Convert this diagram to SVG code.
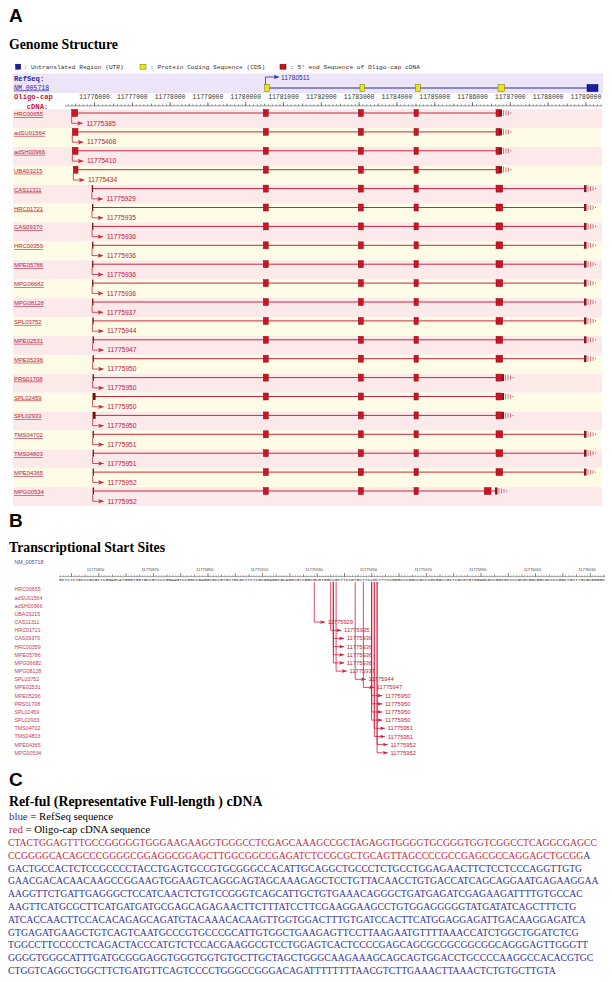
<svg xmlns="http://www.w3.org/2000/svg" xmlns:xlink="http://www.w3.org/1999/xlink" width="612" height="982" viewBox="0 0 612 982">
<style>
.h{font-family:"Liberation Sans",Arial,sans-serif;font-weight:bold;font-size:19px;fill:#000}
.t{font-family:"Liberation Serif","Times New Roman",serif;font-weight:bold;font-size:13.8px;fill:#000}
.lg{font-family:"Liberation Mono","Courier New",monospace;font-size:6.2px;fill:#333}
.rl{font-family:"Liberation Mono","Courier New",monospace;font-size:6.4px;fill:#333;text-anchor:middle}
.lab{font-family:"Liberation Sans",Arial,sans-serif;font-size:5.9px;fill:#c0203a;text-decoration:underline}
.tssl{font-family:"Liberation Sans",Arial,sans-serif;font-size:6.7px;fill:#c0203a}
.bl{font-family:"Liberation Sans",Arial,sans-serif;font-size:5.3px;fill:#c83a5a}
.btl{font-family:"Liberation Sans",Arial,sans-serif;font-size:5.8px;fill:#c8203a}
.brl{font-family:"Liberation Sans",Arial,sans-serif;font-size:4px;fill:#444;text-anchor:middle}
.seqB{font-family:"Liberation Mono","Courier New",monospace;font-size:4.3px;fill:#333}
.seq{font-family:"Liberation Serif","Times New Roman",serif;font-size:9.7px}
.cap{font-family:"Liberation Serif","Times New Roman",serif;font-size:10.8px;fill:#000}
.r{fill:#cc2a40}
.b{fill:#33339a}
.bp{fill:#fce9ea}
.by{fill:#fefbe6}
.intr{stroke:#c8283c;stroke-width:1;fill:none}
.ex{fill:#cc1424;stroke:#8a0f18;stroke-width:0.5}
.mk{fill:#7a1010}
.tss{stroke:#c8283c;stroke-width:0.8;fill:none;marker-end:url(#arrA)}
.tsb{stroke:#d02040;stroke-width:0.8;fill:none;marker-end:url(#arrB)}
</style>
<defs>
<marker id="arrA" markerUnits="userSpaceOnUse" viewBox="0 0 5.5 4.6" markerWidth="5.5" markerHeight="4.6" refX="5.5" refY="2.3" orient="auto"><path d="M0,0L5.5,2.3L0,4.6L1.4,2.3Z" fill="#c8283c"/></marker>
<marker id="arrB" markerUnits="userSpaceOnUse" viewBox="0 0 5 3.8" markerWidth="5" markerHeight="3.8" refX="5" refY="1.9" orient="auto"><path d="M0,0L5,1.9L0,3.8L1.2,1.9Z" fill="#d02040"/></marker>
<marker id="arrR" markerUnits="userSpaceOnUse" viewBox="0 0 5.5 4.6" markerWidth="5.5" markerHeight="4.6" refX="5.5" refY="2.3" orient="auto"><path d="M0,0L5.5,2.3L0,4.6L1.4,2.3Z" fill="#3030a0"/></marker>
<g id="ex234">
<rect class="ex" x="263.3" y="-3.5" width="5" height="7"/>
<rect class="ex" x="358.3" y="-3.5" width="5" height="7"/>
<rect class="ex" x="414" y="-3.5" width="4.3" height="7"/>
</g>
<g id="tail">
<rect x="0" y="-3.5" width="2.5" height="7" fill="#8a1420"/>
<path d="M4,-3V3M6.5,-2.5V2.5M9,-2V2" stroke="#d04050" stroke-width="0.7"/>
<rect x="11" y="-0.5" width="1" height="1" fill="#d04050"/>
</g>
<pattern id="tA1" patternUnits="userSpaceOnUse" x="94.2" y="0" width="3.78" height="1000"><rect x="0" y="0" width="0.6" height="1000" fill="#555"/></pattern>
<pattern id="tA5" patternUnits="userSpaceOnUse" x="113.1" y="0" width="37.8" height="1000"><rect x="0" y="0" width="0.6" height="1000" fill="#555"/></pattern>
<pattern id="tB1" patternUnits="userSpaceOnUse" x="98.3" y="0" width="2.73" height="1000"><rect x="0" y="0" width="0.5" height="1000" fill="#555"/></pattern>
<pattern id="tB10" patternUnits="userSpaceOnUse" x="98.3" y="0" width="27.3" height="1000"><rect x="0" y="0" width="0.6" height="1000" fill="#444"/></pattern>
<pattern id="tB5" patternUnits="userSpaceOnUse" x="111.95" y="0" width="27.3" height="1000"><rect x="0" y="0" width="0.5" height="1000" fill="#555"/></pattern>
</defs>
<rect width="612" height="982" fill="#fff"/>

<!-- Panel A -->
<text class="h" x="9" y="22">A</text>
<text class="t" x="9" y="48.5">Genome Structure</text>
<g id="legend">
<rect x="15.7" y="64.2" width="5" height="5" fill="#1c1ca8" stroke="#000044" stroke-width="0.5"/>
<text class="lg" x="23.5" y="68.8">: Untranslated Region (UTR)</text>
<rect x="140" y="64.2" width="6" height="5" fill="#e6e619" stroke="#777700" stroke-width="0.5"/>
<text class="lg" x="150" y="68.8">: Protein Coding Sequence (CDS)</text>
<rect x="280" y="64.2" width="6" height="5" fill="#cc1122" stroke="#660000" stroke-width="0.5"/>
<text class="lg" x="290" y="68.8">: 5' end Sequence of Oligo-cap cDNA</text>
</g>
<g id="refseq">
<rect x="13" y="73.5" width="590" height="19.5" fill="#ebe5f7"/>
<text x="14" y="80.5" style="font-family:'Liberation Mono',monospace;font-weight:bold;font-size:7.2px;fill:#2a2a9a">RefSeq:</text>
<text x="14" y="89.5" style="font-family:'Liberation Mono',monospace;font-size:6.5px;fill:#2a2a9a;text-decoration:underline">NM_005718</text>
<path d="M265,88H598" stroke="#6a6ac0" stroke-width="1.4"/>
<path d="M265.5,85V77H279" stroke="#3030a0" stroke-width="0.8" fill="none" marker-end="url(#arrR)"/>
<text x="281" y="79.8" style="font-family:'Liberation Sans',Arial,sans-serif;font-size:6.7px;fill:#3030a0">11780511</text>
<g fill="#e6e619" stroke="#777700" stroke-width="0.5">
<rect x="264.7" y="84.5" width="5" height="7"/>
<rect x="360" y="84.5" width="4.7" height="7"/>
<rect x="415.7" y="84.5" width="4.7" height="7"/>
<rect x="498" y="84.5" width="6.7" height="7"/>
</g>
<rect x="587" y="84.5" width="11" height="7" fill="#1c1ca8" stroke="#000044" stroke-width="0.5"/>
</g>
<g id="rulerA">
<text x="14" y="99" style="font-family:'Liberation Mono',monospace;font-weight:bold;font-size:7.2px;fill:#c0203a">Oligo-cap</text>
<text x="26.7" y="109" style="font-family:'Liberation Mono',monospace;font-weight:bold;font-size:7.2px;fill:#c0203a">cDNA:</text>
<path d="M65,105.9H602" stroke="#555" stroke-width="0.6"/>
<rect x="65" y="104.3" width="537" height="1.5" fill="url(#tA1)"/>
<rect x="65" y="103.5" width="537" height="2.3" fill="url(#tA5)"/>
<path d="M94.5,102.2v3.6M132.3,102.2v3.6M170.1,102.2v3.6M207.9,102.2v3.6M245.7,102.2v3.6M283.5,102.2v3.6M321.3,102.2v3.6M359.1,102.2v3.6M396.9,102.2v3.6M434.7,102.2v3.6M472.5,102.2v3.6M510.3,102.2v3.6M548.1,102.2v3.6M585.9,102.2v3.6" stroke="#444" stroke-width="0.7"/>
<text class="rl" x="94.5" y="99.3">11776000</text>
<text class="rl" x="132.3" y="99.3">11777000</text>
<text class="rl" x="170.1" y="99.3">11778000</text>
<text class="rl" x="207.9" y="99.3">11779000</text>
<text class="rl" x="245.7" y="99.3">11780000</text>
<text class="rl" x="283.5" y="99.3">11781000</text>
<text class="rl" x="321.3" y="99.3">11782000</text>
<text class="rl" x="359.1" y="99.3">11783000</text>
<text class="rl" x="396.9" y="99.3">11784000</text>
<text class="rl" x="434.7" y="99.3">11785000</text>
<text class="rl" x="472.5" y="99.3">11786000</text>
<text class="rl" x="510.3" y="99.3">11787000</text>
<text class="rl" x="548.1" y="99.3">11788000</text>
<text class="rl" x="585.9" y="99.3">11789000</text>
</g>

<g id="row-HRC00655" transform="translate(0,113)">
<rect class="bp" x="13" y="-3.8" width="589" height="18.9"/>
<text class="lab" x="14" y="3">HRC00655</text>
<path class="intr" d="M71.7,0H499.5"/>
<rect class="ex" x="71.7" y="-3.5" width="6" height="7"/>
<use href="#ex234"/>
<rect class="ex" x="496" y="-3.5" width="4" height="7"/>
<use href="#tail" x="499.5"/>
<path class="tss" d="M71.7,3.5V10.3H82.7"/>
<text class="tssl" x="86.4" y="12.6">11775385</text>
</g>
<g id="row-adSU01564" transform="translate(0,131.9)">
<rect class="by" x="13" y="-3.8" width="589" height="18.9"/>
<text class="lab" x="14" y="3">adSU01564</text>
<path class="intr" d="M72.3,0H499.5"/>
<rect class="ex" x="72.3" y="-3.5" width="5.7" height="7"/>
<use href="#ex234"/>
<rect class="ex" x="496" y="-3.5" width="4" height="7"/>
<use href="#tail" x="499.5"/>
<path class="tss" d="M72.3,3.5V10.3H83.3"/>
<text class="tssl" x="87" y="12.6">11775408</text>
</g>
<g id="row-adSH00966" transform="translate(0,150.8)">
<rect class="bp" x="13" y="-3.8" width="589" height="18.9"/>
<text class="lab" x="14" y="3">adSH00966</text>
<path class="intr" d="M72.3,0H499.5"/>
<rect class="ex" x="72.3" y="-3.5" width="5.7" height="7"/>
<use href="#ex234"/>
<rect class="ex" x="496" y="-3.5" width="4" height="7"/>
<use href="#tail" x="499.5"/>
<path class="tss" d="M72.3,3.5V10.3H83.3"/>
<text class="tssl" x="87" y="12.6">11775410</text>
</g>
<g id="row-UBA03215" transform="translate(0,169.7)">
<rect class="by" x="13" y="-3.8" width="589" height="18.9"/>
<text class="lab" x="14" y="3">UBA03215</text>
<path class="intr" d="M73.3,0H499.5"/>
<rect class="ex" x="73.3" y="-3.5" width="4.7" height="7"/>
<use href="#ex234"/>
<rect class="ex" x="496" y="-3.5" width="4" height="7"/>
<use href="#tail" x="499.5"/>
<path class="tss" d="M73.3,3.5V10.3H84.3"/>
<text class="tssl" x="88" y="12.6">11775434</text>
</g>
<g id="row-CAS11311" transform="translate(0,188.6)">
<rect class="bp" x="13" y="-3.8" width="589" height="18.9"/>
<text class="lab" x="14" y="3">CAS11311</text>
<path class="intr" d="M91.8,0H584"/>
<rect class="mk" x="91.8" y="-3.5" width="1.3" height="7"/>
<use href="#ex234"/>
<rect class="ex" x="496" y="-3.5" width="6.7" height="7"/>
<use href="#tail" x="584"/>
<path class="tss" d="M91.8,3.5V10.3H102.8"/>
<text class="tssl" x="106.5" y="12.6">11775929</text>
</g>
<g id="row-HRC01721" transform="translate(0,207.5)">
<rect class="by" x="13" y="-3.8" width="589" height="18.9"/>
<text class="lab" x="14" y="3">HRC01721</text>
<path class="intr" d="M92,0H584"/>
<rect class="mk" x="92" y="-3.5" width="1.3" height="7"/>
<use href="#ex234"/>
<rect class="ex" x="496" y="-3.5" width="6.7" height="7"/>
<use href="#tail" x="584"/>
<path class="tss" d="M92,3.5V10.3H103"/>
<text class="tssl" x="106.7" y="12.6">11775935</text>
</g>
<g id="row-CAS09370" transform="translate(0,226.4)">
<rect class="bp" x="13" y="-3.8" width="589" height="18.9"/>
<text class="lab" x="14" y="3">CAS09370</text>
<path class="intr" d="M92.1,0H584"/>
<rect class="mk" x="92.1" y="-3.5" width="1.3" height="7"/>
<use href="#ex234"/>
<rect class="ex" x="496" y="-3.5" width="6.7" height="7"/>
<use href="#tail" x="584"/>
<path class="tss" d="M92.1,3.5V10.3H103.1"/>
<text class="tssl" x="106.8" y="12.6">11775936</text>
</g>
<g id="row-HRC00359" transform="translate(0,245.3)">
<rect class="by" x="13" y="-3.8" width="589" height="18.9"/>
<text class="lab" x="14" y="3">HRC00359</text>
<path class="intr" d="M92.1,0H584"/>
<rect class="mk" x="92.1" y="-3.5" width="1.3" height="7"/>
<use href="#ex234"/>
<rect class="ex" x="496" y="-3.5" width="6.7" height="7"/>
<use href="#tail" x="584"/>
<path class="tss" d="M92.1,3.5V10.3H103.1"/>
<text class="tssl" x="106.8" y="12.6">11775936</text>
</g>
<g id="row-MPE05786" transform="translate(0,264.2)">
<rect class="bp" x="13" y="-3.8" width="589" height="18.9"/>
<text class="lab" x="14" y="3">MPE05786</text>
<path class="intr" d="M92.1,0H584"/>
<rect class="mk" x="92.1" y="-3.5" width="1.3" height="7"/>
<use href="#ex234"/>
<rect class="ex" x="496" y="-3.5" width="6.7" height="7"/>
<use href="#tail" x="584"/>
<path class="tss" d="M92.1,3.5V10.3H103.1"/>
<text class="tssl" x="106.8" y="12.6">11775936</text>
</g>
<g id="row-MPG06682" transform="translate(0,283.1)">
<rect class="by" x="13" y="-3.8" width="589" height="18.9"/>
<text class="lab" x="14" y="3">MPG06682</text>
<path class="intr" d="M92.1,0H584"/>
<rect class="mk" x="92.1" y="-3.5" width="1.3" height="7"/>
<use href="#ex234"/>
<rect class="ex" x="496" y="-3.5" width="6.7" height="7"/>
<use href="#tail" x="584"/>
<path class="tss" d="M92.1,3.5V10.3H103.1"/>
<text class="tssl" x="106.8" y="12.6">11775936</text>
</g>
<g id="row-MPG08128" transform="translate(0,302)">
<rect class="bp" x="13" y="-3.8" width="589" height="18.9"/>
<text class="lab" x="14" y="3">MPG08128</text>
<path class="intr" d="M92.1,0H584"/>
<rect class="mk" x="92.1" y="-3.5" width="1.3" height="7"/>
<use href="#ex234"/>
<rect class="ex" x="496" y="-3.5" width="6.7" height="7"/>
<use href="#tail" x="584"/>
<path class="tss" d="M92.1,3.5V10.3H103.1"/>
<text class="tssl" x="106.8" y="12.6">11775937</text>
</g>
<g id="row-SPL03752" transform="translate(0,320.9)">
<rect class="by" x="13" y="-3.8" width="589" height="18.9"/>
<text class="lab" x="14" y="3">SPL03752</text>
<path class="intr" d="M92.4,0H584"/>
<rect class="mk" x="92.4" y="-3.5" width="1.3" height="7"/>
<use href="#ex234"/>
<rect class="ex" x="496" y="-3.5" width="6.7" height="7"/>
<use href="#tail" x="584"/>
<path class="tss" d="M92.4,3.5V10.3H103.4"/>
<text class="tssl" x="107.1" y="12.6">11775944</text>
</g>
<g id="row-MPE02531" transform="translate(0,339.8)">
<rect class="bp" x="13" y="-3.8" width="589" height="18.9"/>
<text class="lab" x="14" y="3">MPE02531</text>
<path class="intr" d="M92.6,0H584"/>
<rect class="mk" x="92.6" y="-3.5" width="1.3" height="7"/>
<use href="#ex234"/>
<rect class="ex" x="496" y="-3.5" width="6.7" height="7"/>
<use href="#tail" x="584"/>
<path class="tss" d="M92.6,3.5V10.3H103.6"/>
<text class="tssl" x="107.3" y="12.6">11775947</text>
</g>
<g id="row-MPE05296" transform="translate(0,358.7)">
<rect class="by" x="13" y="-3.8" width="589" height="18.9"/>
<text class="lab" x="14" y="3">MPE05296</text>
<path class="intr" d="M92.6,0H584"/>
<rect class="mk" x="92.6" y="-3.5" width="1.3" height="7"/>
<use href="#ex234"/>
<rect class="ex" x="496" y="-3.5" width="6.7" height="7"/>
<use href="#tail" x="584"/>
<path class="tss" d="M92.6,3.5V10.3H103.6"/>
<text class="tssl" x="107.3" y="12.6">11775950</text>
</g>
<g id="row-PRS01708" transform="translate(0,377.6)">
<rect class="bp" x="13" y="-3.8" width="589" height="18.9"/>
<text class="lab" x="14" y="3">PRS01708</text>
<path class="intr" d="M92.6,0H501.5"/>
<rect class="mk" x="92.6" y="-3.5" width="1.3" height="7"/>
<use href="#ex234"/>
<rect class="ex" x="496" y="-3.5" width="5.5" height="7"/>
<use href="#tail" x="501.5"/>
<path class="tss" d="M92.6,3.5V10.3H103.6"/>
<text class="tssl" x="107.3" y="12.6">11775950</text>
</g>
<g id="row-SPL02459" transform="translate(0,396.5)">
<rect class="by" x="13" y="-3.8" width="589" height="18.9"/>
<text class="lab" x="14" y="3">SPL02459</text>
<path class="intr" d="M92.6,0H501.5"/>
<rect class="mk" x="92.6" y="-3.5" width="3" height="7"/>
<use href="#ex234"/>
<rect class="ex" x="496" y="-3.5" width="5.5" height="7"/>
<use href="#tail" x="501.5"/>
<path class="tss" d="M92.6,3.5V10.3H103.6"/>
<text class="tssl" x="107.3" y="12.6">11775950</text>
</g>
<g id="row-SPL02933" transform="translate(0,415.4)">
<rect class="bp" x="13" y="-3.8" width="589" height="18.9"/>
<text class="lab" x="14" y="3">SPL02933</text>
<path class="intr" d="M92.6,0H501.5"/>
<rect class="mk" x="92.6" y="-3.5" width="3" height="7"/>
<use href="#ex234"/>
<rect class="ex" x="496" y="-3.5" width="5.5" height="7"/>
<use href="#tail" x="501.5"/>
<path class="tss" d="M92.6,3.5V10.3H103.6"/>
<text class="tssl" x="107.3" y="12.6">11775950</text>
</g>
<g id="row-TMS04702" transform="translate(0,434.3)">
<rect class="by" x="13" y="-3.8" width="589" height="18.9"/>
<text class="lab" x="14" y="3">TMS04702</text>
<path class="intr" d="M92.6,0H584"/>
<rect class="mk" x="92.6" y="-3.5" width="1.3" height="7"/>
<use href="#ex234"/>
<rect class="ex" x="496" y="-3.5" width="6.7" height="7"/>
<use href="#tail" x="584"/>
<path class="tss" d="M92.6,3.5V10.3H103.6"/>
<text class="tssl" x="107.3" y="12.6">11775951</text>
</g>
<g id="row-TMS04803" transform="translate(0,453.2)">
<rect class="bp" x="13" y="-3.8" width="589" height="18.9"/>
<text class="lab" x="14" y="3">TMS04803</text>
<path class="intr" d="M92.6,0H584"/>
<rect class="mk" x="92.6" y="-3.5" width="1.3" height="7"/>
<use href="#ex234"/>
<rect class="ex" x="496" y="-3.5" width="6.7" height="7"/>
<use href="#tail" x="584"/>
<path class="tss" d="M92.6,3.5V10.3H103.6"/>
<text class="tssl" x="107.3" y="12.6">11775951</text>
</g>
<g id="row-MPE04365" transform="translate(0,472.1)">
<rect class="by" x="13" y="-3.8" width="589" height="18.9"/>
<text class="lab" x="14" y="3">MPE04365</text>
<path class="intr" d="M92.7,0H584"/>
<rect class="mk" x="92.7" y="-3.5" width="1.3" height="7"/>
<use href="#ex234"/>
<rect class="ex" x="496" y="-3.5" width="6.7" height="7"/>
<use href="#tail" x="584"/>
<path class="tss" d="M92.7,3.5V10.3H103.7"/>
<text class="tssl" x="107.4" y="12.6">11775952</text>
</g>
<g id="row-MPG00534" transform="translate(0,491)">
<rect class="bp" x="13" y="-3.8" width="589" height="18.9"/>
<text class="lab" x="14" y="3">MPG00534</text>
<path class="intr" d="M92.7,0H495"/>
<rect class="mk" x="92.7" y="-3.5" width="1.3" height="7"/>
<use href="#ex234"/>
<rect class="ex" x="484.3" y="-3.5" width="6.7" height="7"/>
<use href="#tail" x="495"/>
<path class="tss" d="M92.7,3.5V10.3H103.7"/>
<text class="tssl" x="107.4" y="12.6">11775952</text>
</g>

<!-- Panel B -->
<text class="h" x="9" y="527">B</text>
<text class="t" x="9" y="552">Transcriptional Start Sites</text>
<g id="rulerB">
<text x="14.5" y="563.5" style="font-family:'Liberation Sans',Arial,sans-serif;font-size:5.3px;fill:#4050a0">NM_005718</text>
<path d="M59,576.6H605" stroke="#555" stroke-width="0.5"/>
<rect x="59" y="575.3" width="546" height="1.3" fill="url(#tB1)"/>
<rect x="59" y="574.4" width="546" height="2.2" fill="url(#tB5)"/>
<rect x="59" y="573" width="546" height="3.6" fill="url(#tB10)"/>
<text class="brl" x="95.6" y="571">11775850</text>
<text class="brl" x="150.2" y="571">11775870</text>
<text class="brl" x="204.8" y="571">11775890</text>
<text class="brl" x="259.4" y="571">11775910</text>
<text class="brl" x="314" y="571">11775930</text>
<text class="brl" x="368.6" y="571">11775950</text>
<text class="brl" x="423.2" y="571">11775970</text>
<text class="brl" x="477.8" y="571">11775990</text>
<text class="brl" x="532.4" y="571">11776010</text>
<text class="brl" x="587" y="571">11776030</text>
<text class="seqB" x="59" y="580.8" textLength="546" lengthAdjust="spacingAndGlyphs">GCTCTCTGCCCGCGCTCGGAGCATGGGTGGTGCCGTCCCGGAAGTCCGGCCGAGGCGCCGTGCTGCGCTTCTCGCGGAGGCGCAGGCGTCGGCGCGTGGCCGCTTCCGTGCTTCCGCTTTCCGGGCCCGGCCGCCCGCGGCCGCTCGCGTGTGGAGCGCCGGCGCCCCGCGCGGCGGCGCCCCGGCTGCTTGCGCGGGGC</text>
</g>
<g id="labelsB">
<text class="bl" x="14.5" y="591.3">HRC00655</text>
<text class="bl" x="14.5" y="599.5">adSU01564</text>
<text class="bl" x="14.5" y="607.6">adSH00966</text>
<text class="bl" x="14.5" y="615.8">UBA03215</text>
<text class="bl" x="14.5" y="624">CAS11311</text>
<text class="bl" x="14.5" y="632.2">HRC01721</text>
<text class="bl" x="14.5" y="640.3">CAS09370</text>
<text class="bl" x="14.5" y="648.5">HRC00359</text>
<text class="bl" x="14.5" y="656.7">MPE05786</text>
<text class="bl" x="14.5" y="664.8">MPG06682</text>
<text class="bl" x="14.5" y="673">MPG08128</text>
<text class="bl" x="14.5" y="681.2">SPL03752</text>
<text class="bl" x="14.5" y="689.3">MPE02531</text>
<text class="bl" x="14.5" y="697.5">MPE05296</text>
<text class="bl" x="14.5" y="705.7">PRS01708</text>
<text class="bl" x="14.5" y="713.9">SPL02459</text>
<text class="bl" x="14.5" y="722">SPL02933</text>
<text class="bl" x="14.5" y="730.2">TMS04702</text>
<text class="bl" x="14.5" y="738.4">TMS04803</text>
<text class="bl" x="14.5" y="746.5">MPE04365</text>
<text class="bl" x="14.5" y="754.7">MPG00534</text>
</g>
<g id="connectorsB">
<path class="tsb" d="M314.3,582V622.1H325"/>
<path class="tsb" d="M330.7,582V630.3H341.4"/>
<path class="tsb" d="M333.4,582V638.4H344.1"/>
<path class="tsb" d="M333.4,582V646.6H344.1"/>
<path class="tsb" d="M333.4,582V654.8H344.1"/>
<path class="tsb" d="M333.4,582V662.9H344.1"/>
<path class="tsb" d="M336.1,582V671.1H346.8"/>
<path class="tsb" d="M355.2,582V679.3H365.9"/>
<path class="tsb" d="M363.4,582V687.4H374.1"/>
<path class="tsb" d="M371.6,582V695.6H382.3"/>
<path class="tsb" d="M371.6,582V703.8H382.3"/>
<path class="tsb" d="M371.6,582V712H382.3"/>
<path class="tsb" d="M371.6,582V720.1H382.3"/>
<path class="tsb" d="M374.3,582V728.3H385"/>
<path class="tsb" d="M374.3,582V736.5H385"/>
<path class="tsb" d="M377.1,582V744.6H387.8"/>
<path class="tsb" d="M377.1,582V752.8H387.8"/>
</g>
<g id="tssB">
<text class="btl" x="327.7" y="624.1">11775929</text>
<text class="btl" x="344.1" y="632.3">11775935</text>
<text class="btl" x="346.8" y="640.4">11775936</text>
<text class="btl" x="346.8" y="648.6">11775936</text>
<text class="btl" x="346.8" y="656.8">11775936</text>
<text class="btl" x="346.8" y="664.9">11775936</text>
<text class="btl" x="349.5" y="673.1">11775937</text>
<text class="btl" x="368.6" y="681.3">11775944</text>
<text class="btl" x="376.8" y="689.4">11775947</text>
<text class="btl" x="385" y="697.6">11775950</text>
<text class="btl" x="385" y="705.8">11775950</text>
<text class="btl" x="385" y="714">11775950</text>
<text class="btl" x="385" y="722.1">11775950</text>
<text class="btl" x="387.7" y="730.3">11775951</text>
<text class="btl" x="387.7" y="738.5">11775951</text>
<text class="btl" x="390.5" y="746.6">11775952</text>
<text class="btl" x="390.5" y="754.8">11775952</text>
</g>

<!-- Panel C -->
<text class="h" x="9" y="786">C</text>
<text class="t" x="9" y="806">Ref-ful (Representative Full-length ) cDNA</text>
<text class="cap" x="9" y="820.4"><tspan class="b">blue</tspan> = RefSeq sequence</text>
<text class="cap" x="9" y="833.2"><tspan class="r">red</tspan> = Oligo-cap cDNA sequence</text>
<g id="sequenceC" class="seq">
<text class="r" x="8" y="846">CTACTGGAGTTTGCCGGGGGTGGGAAGAAGGTGGGCCTCGAGCAAAGCCGCTAGAGGTGGGGTGCGGGTGGTCGGCCTCAGGCGAGCC</text>
<text x="8" y="858.8"><tspan class="r">CCGGGGCACAGCCCGGGGCGGAGGCGGAGCTTGGCGGCCGAGATCTCCGCGCTGCAGTTAGCCCCGCCGAGCGCCAGGAGCTGCGG</tspan><tspan class="b">A</tspan></text>
<text class="b" x="8" y="871.6">GACTGCCACTCTCCGCCCCTACCTGAGTGCCGTGCGGGCCACATTGCAGGCTGCCCTCTGCCTGGAGAACTTCTCCTCCCAGGTTGTG</text>
<text class="b" x="8" y="884.4">GAACGACACAACAAGCCGGAAGTGGAAGTCAGGGAGTAGCAAAGAGCTCCTGTTACAACCTGTGACCATCAGCAGGAATGAGAAGGAA</text>
<text class="b" x="8" y="897.2">AAGGTTCTGATTGAGGGCTCCATCAACTCTGTCCGGGTCAGCATTGCTGTGAAACAGGGCTGATGAGATCGAGAAGATTTTGTGCCAC</text>
<text class="b" x="8" y="910">AAGTTCATGCGCTTCATGATGATGCGAGCAGAGAACTTCTTTATCCTTCGAAGGAAGCCTGTGGAGGGGGTATGATATCAGCTTTCTG</text>
<text class="b" x="8" y="922.8">ATCACCAACTTCCACACAGAGCAGATGTACAAACACAAGTTGGTGGACTTTGTGATCCACTTCATGGAGGAGATTGACAAGGAGATCA</text>
<text class="b" x="8" y="935.6">GTGAGATGAAGCTGTCAGTCAATGCCCGTGCCCGCATTGTGGCTGAAGAGTTCCTTAAGAATGTTTTAAACCATCTGGCTGGATCTCG</text>
<text class="b" x="8" y="948.4">TGGCCTTCCCCCTCAGACTACCCATGTCTCCACGAAGGCGTCCTGGAGTCACTCCCCGAGCAGCGCGGCGGCGGCAGGGAGTTGGGTT</text>
<text class="b" x="8" y="961.2">GGGGTGGGCATTTGATGCGGGAGGTGGGTGGTGTGCTTGCTAGCTGGGCAAGAAAGCAGCAGTGGACCTGCCCCAAGGCCACACGTGC</text>
<text class="b" x="8" y="974">CTGGTCAGGCTGGCTTCTGATGTTCAGTCCCCTGGGCCGGGACAGATTTTTTTTAACGTCTTGAAACTTAAACTCTGTGCTTGTA</text>
</g>
</svg>
